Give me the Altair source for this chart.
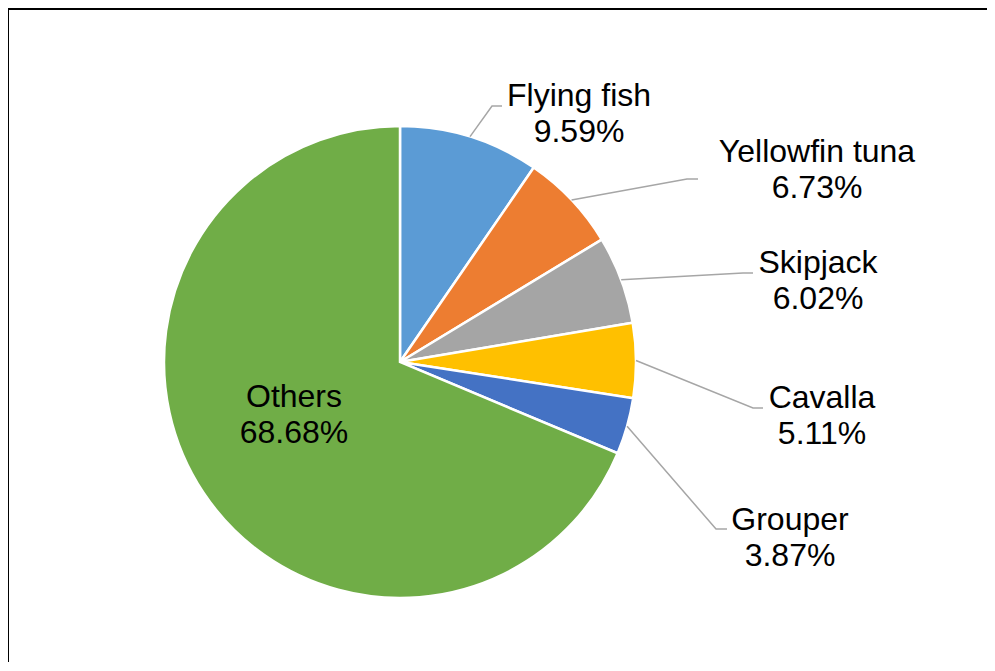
import math
import altair as alt
import pandas as pd

# ---- data ----
names = ["Flying fish", "Yellowfin tuna", "Skipjack", "Cavalla", "Grouper", "Others"]
values = [9.59, 6.73, 6.02, 5.11, 3.87, 68.68]
pct_labels = ["9.59%", "6.73%", "6.02%", "5.11%", "3.87%", "68.68%"]
colors = ["#5B9BD5", "#ED7D31", "#A5A5A5", "#FFC000", "#4472C4", "#70AD47"]

# ---- layout (plot-area pixels) ----
W, H = 979, 654
CX, CY, R = 392, 354, 236
label_x = [571, 809, 810, 814, 782, 286]
label_y = [98, 154, 265, 400, 522, 399]          # baseline of first line
elbow_x = [484, 679, 735, 745, 708, None]
elbow_y = [98, 171, 265, 400, 521, None]
end_x = [494, 690, 745, 755, 719, None]
LINE_GAP = 36
FONT = "Liberation Sans"
FS = 32

total = sum(values)
pie_df = pd.DataFrame({"name": names, "value": values, "idx": list(range(len(names)))})

# leader lines: start on the slice edge at the slice's mid-angle
rows = []
cum = 0.0
for i, v in enumerate(values):
    mid = (cum + v / 2) / total * 2 * math.pi
    cum += v
    if elbow_x[i] is None:
        continue
    sx = CX + R * math.sin(mid)
    sy = CY - R * math.cos(mid)
    rows.append({"name": names[i], "seq": 0, "x": sx, "y": sy})
    rows.append({"name": names[i], "seq": 1, "x": elbow_x[i], "y": elbow_y[i]})
    rows.append({"name": names[i], "seq": 2, "x": end_x[i], "y": elbow_y[i]})
line_df = pd.DataFrame(rows)

text_df = pd.DataFrame({
    "name": names,
    "pct": pct_labels,
    "tx": label_x,
    "ty": label_y,
    "ty2": [y + LINE_GAP for y in label_y],
})

xs = alt.Scale(domain=[0, W], nice=False, zero=False)
ys = alt.Scale(domain=[0, H], nice=False, zero=False, reverse=True)

base1 = alt.Chart(pd.DataFrame({"a": [0]}))
frame_top = base1.mark_rule(color="#000000", strokeWidth=2).encode(
    x=alt.value(0), x2=alt.value(W + 20), y=alt.value(1)
)
frame_left = base1.mark_rule(color="#000000", strokeWidth=2).encode(
    x=alt.value(0), y=alt.value(0), y2=alt.value(H + 20)
)

pie = alt.Chart(pie_df).mark_arc(
    x=CX, y=CY, radius=R, stroke="white", strokeWidth=2.5
).encode(
    theta=alt.Theta("value:Q", stack=True),
    order=alt.Order("idx:Q", sort="ascending"),
    color=alt.Color("name:N", scale=alt.Scale(domain=names, range=colors), legend=None),
)

leaders = alt.Chart(line_df).mark_line(color="#A6A6A6", strokeWidth=1.5).encode(
    x=alt.X("x:Q", scale=xs, axis=None),
    y=alt.Y("y:Q", scale=ys, axis=None),
    detail="name:N",
    order="seq:Q",
)

t1 = alt.Chart(text_df).mark_text(
    font=FONT, fontSize=FS, color="black", align="center", baseline="alphabetic"
).encode(
    x=alt.X("tx:Q", scale=xs, axis=None),
    y=alt.Y("ty:Q", scale=ys, axis=None),
    text="name:N",
)

t2 = alt.Chart(text_df).mark_text(
    font=FONT, fontSize=FS, color="black", align="center", baseline="alphabetic"
).encode(
    x=alt.X("tx:Q", scale=xs, axis=None),
    y=alt.Y("ty2:Q", scale=ys, axis=None),
    text="pct:N",
)

chart = alt.layer(frame_top, frame_left, pie, leaders, t1, t2).properties(
    width=W, height=H, padding=0, autosize=alt.AutoSizeParams(type="none"),
    background="white",
).configure_view(stroke=None)

chart.save("out.html", embed_options={"renderer": "svg", "actions": False})
